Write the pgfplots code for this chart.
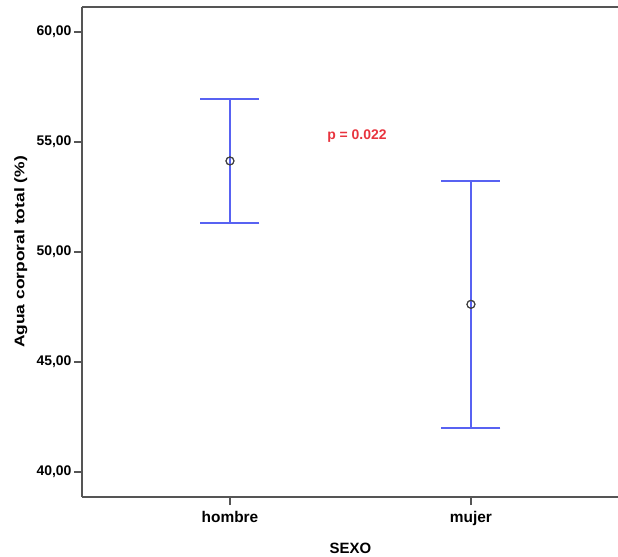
\documentclass[border=0pt]{standalone}
\usepackage{pgfplots}
\pgfplotsset{compat=1.18}
\usepackage{fontspec}
\setmainfont{Liberation Sans}
\definecolor{barblue}{RGB}{88,98,242}
\definecolor{ptred}{RGB}{232,52,62}
\definecolor{axgray}{RGB}{85,85,85}
\begin{document}
\begin{tikzpicture}
\begin{axis}[
  scale only axis,
  width=546bp, height=490bp,
  xmin=0.386, xmax=2.6516,
  ymin=38.86, ymax=61.14,
  axis x line*=bottom,
  axis y line*=left,
  axis line style={axgray, line width=1.4bp, -},
  xtick={1,2}, xticklabels={hombre,mujer},
  ytick={40,45,50,55,60},
  tick style={axgray, line width=1.4bp},
  tick align=outside,
  major tick length=8bp,
  x tick label style={font=\fontsize{15.5}{17}\selectfont\bfseries, yshift=-3bp},
  y tick label style={font=\fontsize{14}{16}\selectfont\bfseries, xshift=1bp},
  /pgf/number format/.cd, fixed, fixed zerofill, precision=2, use comma, assume math mode=true,
  /pgfplots/.cd,
  xlabel={SEXO},
  ylabel={Agua corporal total (\%)},
  xlabel style={font=\fontsize{15}{17}\selectfont\bfseries, at={(axis cs:1.5,38.86)}, anchor=center, yshift=-51bp},
  ylabel style={font=\fontsize{14}{16}\selectfont\bfseries, at={(axis description cs:-0.112,0.5)}, anchor=center, xscale=1.25},
  clip=false,
]
\draw[axgray, line width=1.4bp] (rel axis cs:0,1) -- (rel axis cs:1,1);
\addplot[only marks, mark=o, mark size=4bp, mark options={draw=black!75, line width=1bp},
  error bars/.cd, y dir=both, y explicit,
  error bar style={barblue, line width=2bp},
  error mark options={barblue, line width=2bp, mark size=29.5bp, rotate=90}]
  coordinates {
    (1,54.14) +- (0,2.81)
    (2,47.62) +- (0,5.61)
  };
\addplot[only marks, mark=o, mark size=4bp, mark options={draw=black!75, line width=1bp}]
  coordinates {(1,54.14) (2,47.62)};
\node[font=\fontsize{14}{16}\selectfont\bfseries, text=ptred] at (axis cs:1.527,55.27) {p = 0.022};
\end{axis}
\pgfresetboundingbox
\path[use as bounding box] (current axis.south west) ++(-82bp,-60bp) rectangle ++(618bp,557bp);
\end{tikzpicture}
\end{document}
